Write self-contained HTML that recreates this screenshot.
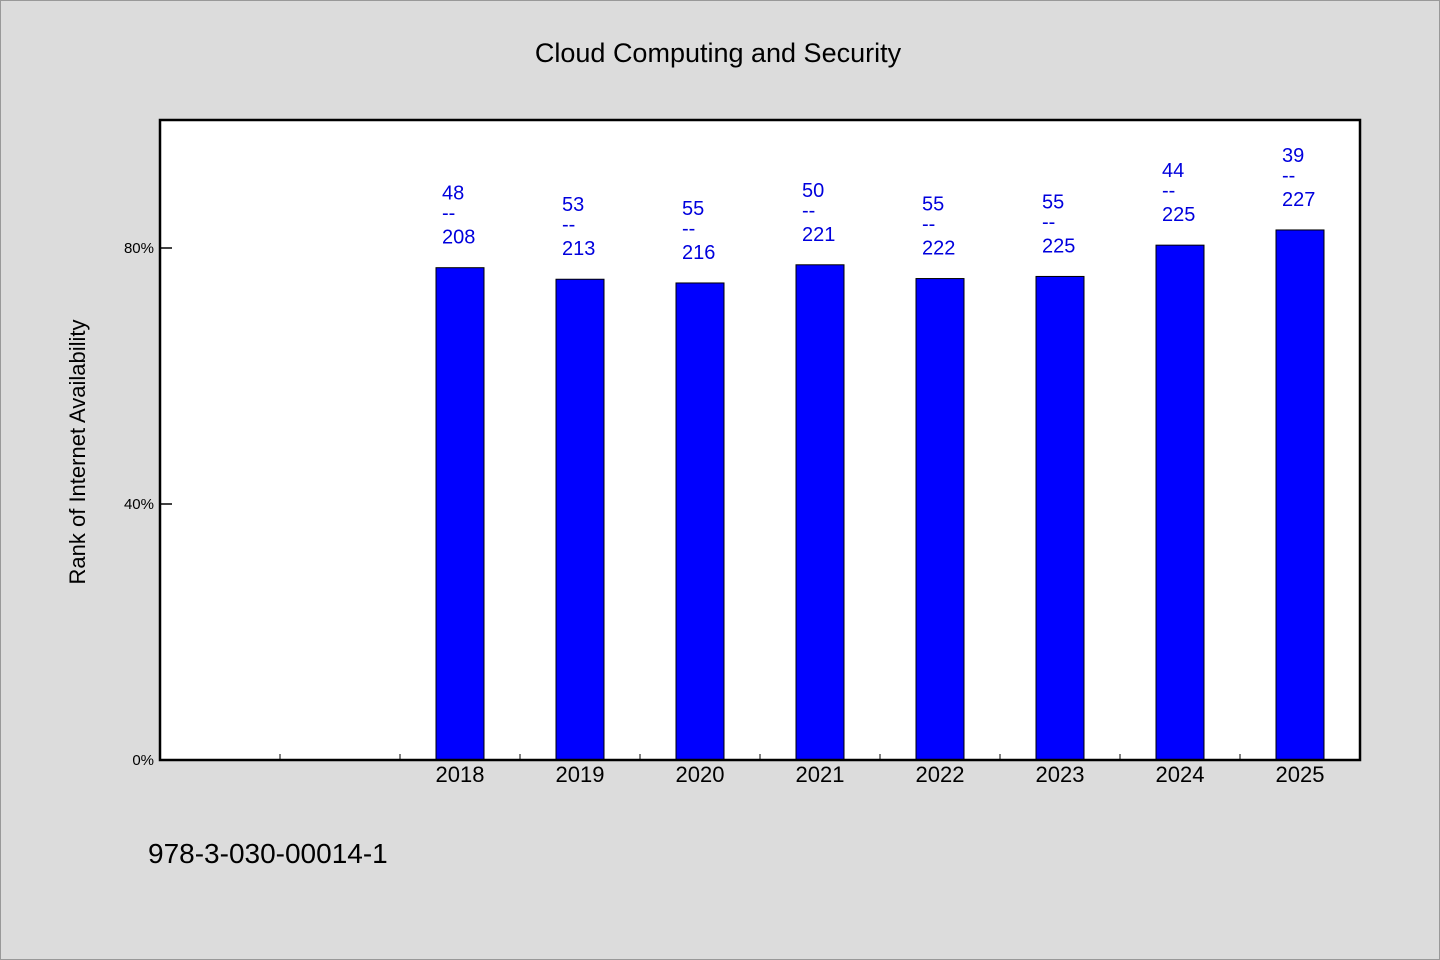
<!DOCTYPE html>
<html><head><meta charset="utf-8"><style>
html,body{margin:0;padding:0;background:#dcdcdc;}
svg{display:block;}
text{font-family:"WenQuanYi Zen Hei","Liberation Sans",sans-serif;}
</style></head><body>
<svg id="chart" width="1440" height="960" xmlns="http://www.w3.org/2000/svg">
<rect x="0.5" y="0.5" width="1439" height="959" fill="#dcdcdc" stroke="#999"/>
<text x="718" y="62" font-size="27" text-anchor="middle" fill="#000">Cloud Computing and Security</text>
<rect x="160" y="120" width="1200" height="640" fill="#fff"/>
<g id="marks"></g>
<rect x="160" y="120" width="1200" height="640" fill="none" stroke="#000" stroke-width="2.5"/>
<text transform="translate(85,452) rotate(-90)" font-size="22" text-anchor="middle" fill="#000">Rank of Internet Availability</text>
<text x="148" y="863" font-size="28" fill="#000">978-3-030-00014-1</text>
</svg>
<script>
const categories = ["", "", "2018", "2019", "2020", "2021", "2022", "2023", "2024", "2025"];
const ranks = [null, null, 48, 53, 55, 50, 55, 55, 44, 39];
const totals = [null, null, 208, 213, 216, 221, 222, 225, 225, 227];
const yTicks = [0, 40, 80];

const X0 = 160, X1 = 1360, Y0 = 760, Y1 = 120;
const slot = (X1 - X0) / categories.length;
const xCenter = i => X0 + slot * (i + 0.5);
const yScale = p => Y0 - p * 6.4;
const NS = "http://www.w3.org/2000/svg";
const g = document.getElementById("marks");
function mk(tag, attrs, txt) {
  const e = document.createElementNS(NS, tag);
  for (const k in attrs) e.setAttribute(k, attrs[k]);
  if (txt !== undefined) e.textContent = txt;
  g.appendChild(e);
  return e;
}
yTicks.forEach(t => {
  const y = yScale(t);
  const l = mk("line", {x1: X0, x2: X0 + 12, y1: y, y2: y, stroke: "#000", "stroke-width": 1.5});
  
  
  const tx = mk("text", {x: X0 - 6, y: y + 5, "font-size": 15, "text-anchor": "end", fill: "#000"}, t + "%");
  
  
});
for (let i = 1; i < categories.length; i++) {
  const x = X0 + slot * i;
  const l = mk("line", {x1: x, x2: x, y1: Y0, y2: Y0 - 6, stroke: "#000", "stroke-width": 1});
  
  
}
categories.forEach((c, i) => {
  if (ranks[i] === null) return;
  const pct = (1 - ranks[i] / totals[i]) * 100;
  const top = yScale(pct);
  const cx = xCenter(i);
  const b = mk("rect", {x: cx - 24, y: top, width: 48, height: Y0 - top, fill: "#0000ff", stroke: "#000", "stroke-width": 1});
  
  
  const lb = mk("text", {x: cx, y: 782, "font-size": 22, "text-anchor": "middle", fill: "#000"}, c);
  
  
  const t1 = mk("text", {x: cx - 18, y: top - 68, "font-size": 20, fill: "#0000dd"}, String(ranks[i]));
  
  
  const t2 = mk("text", {x: cx - 18, y: top - 48, "font-size": 20, fill: "#0000dd"}, "--");
  
  
  const t3 = mk("text", {x: cx - 18, y: top - 24, "font-size": 20, fill: "#0000dd"}, String(totals[i]));
  
  
});
</script>
</body></html>
